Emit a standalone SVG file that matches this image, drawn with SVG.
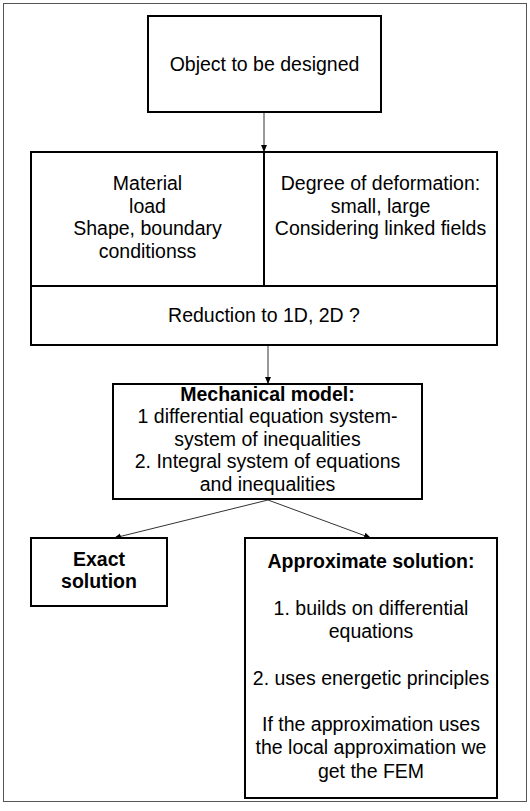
<svg xmlns="http://www.w3.org/2000/svg" width="530" height="811" viewBox="0 0 530 811">
<defs>
<marker id="ah" markerWidth="8" markerHeight="8" refX="7" refY="4" orient="auto" markerUnits="userSpaceOnUse">
<path d="M0,1 L7,4 L0,7 Z" fill="#000"/>
</marker>
<style>
.box{fill:#fff;stroke:#000;stroke-width:2}
.t{font-family:"Liberation Sans",Arial,sans-serif;font-size:19.5px;fill:#000;text-anchor:middle}
.b{font-weight:bold}
.c{stroke:#333;stroke-width:1;fill:none;marker-end:url(#ah)}
</style>
</defs>
<rect x="0" y="0" width="530" height="811" fill="#fff"/>
<rect x="3.5" y="3.5" width="523" height="798" fill="none" stroke="#555" stroke-width="1"/>
<g id="connectors">
<line class="c" x1="264" y1="113" x2="264" y2="152"/>
<line class="c" x1="268" y1="346" x2="268" y2="384"/>
<line class="c" x1="268" y1="500" x2="114" y2="538"/>
<line class="c" x1="268" y1="500" x2="371" y2="538"/>
</g>
<g id="object">
<rect class="box" x="148" y="16" width="233" height="96"/>
<text class="t" x="264.5" y="71">Object to be designed</text>
</g>
<g id="inputs">
<rect class="box" x="31" y="152" width="466" height="134"/>
<line x1="264" y1="152" x2="264" y2="286" stroke="#000" stroke-width="2"/>
<text class="t" x="147.5" y="190">Material</text>
<text class="t" x="147.5" y="212.7">load</text>
<text class="t" x="147.5" y="235.4">Shape, boundary</text>
<text class="t" x="147.5" y="258">conditionss</text>
<text class="t" x="380.5" y="190">Degree of deformation:</text>
<text class="t" x="380.5" y="212.7">small, large</text>
<text class="t" x="380.5" y="235.4">Considering linked fields</text>
</g>
<g id="reduction">
<rect class="box" x="31" y="286" width="466" height="59"/>
<text class="t" x="264" y="322">Reduction to 1D, 2D ?</text>
</g>
<g id="model">
<rect class="box" x="113" y="384" width="309" height="115"/>
<text class="t b" x="267.5" y="400.5">Mechanical model:</text>
<text class="t" x="267.5" y="423">1 differential equation system-</text>
<text class="t" x="267.5" y="445.5">system of inequalities</text>
<text class="t" x="267.5" y="468">2. Integral system of equations</text>
<text class="t" x="267.5" y="490.5">and inequalities</text>
</g>
<g id="exact">
<rect class="box" x="31" y="538" width="136" height="68"/>
<text class="t b" x="99" y="566">Exact</text>
<text class="t b" x="99" y="588">solution</text>
</g>
<g id="approx">
<rect class="box" x="245" y="538" width="252" height="260"/>
<text class="t b" x="371" y="568">Approximate solution:</text>
<text class="t" x="371" y="614.6">1. builds on differential</text>
<text class="t" x="371" y="637.9">equations</text>
<text class="t" x="371" y="684.5">2. uses energetic principles</text>
<text class="t" x="371" y="731.1">If the approximation uses</text>
<text class="t" x="371" y="754.4">the local approximation we</text>
<text class="t" x="371" y="777.7">get the FEM</text>
</g>
</svg>
